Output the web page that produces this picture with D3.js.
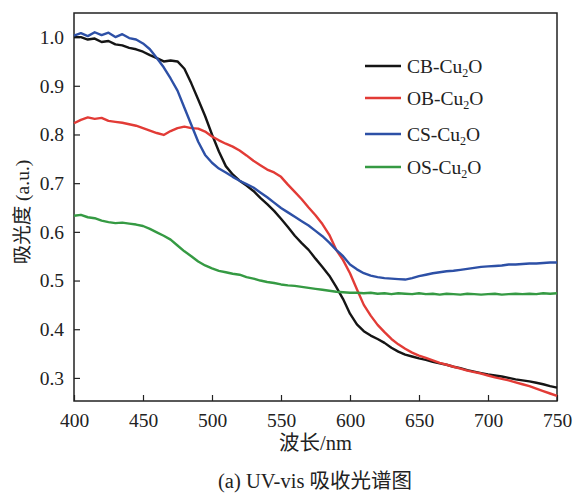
<!DOCTYPE html>
<html>
<head>
<meta charset="utf-8">
<script src="https://cdn.jsdelivr.net/npm/d3@7"></script>
<style>
  html, body { margin: 0; padding: 0; background: #fff; }
  svg text { font-family: "Liberation Serif", "Noto Sans CJK SC", serif; fill: #222; }
</style>
</head>
<body>
<svg id="chart" width="575" height="493"></svg>
<script>
// ── data ──
const wavelengths = d3.range(400, 751, 5);

const cbValues = [
  1.000, 1.000, 0.995, 0.997, 0.990, 0.992, 0.985, 0.983, 0.978, 0.975,
  0.970, 0.963, 0.957, 0.950, 0.952, 0.950, 0.935, 0.905, 0.872, 0.838,
  0.800, 0.765, 0.735, 0.718, 0.705, 0.695, 0.684, 0.670, 0.657, 0.643,
  0.627, 0.610, 0.592, 0.577, 0.563, 0.545, 0.528, 0.510, 0.487, 0.462,
  0.432, 0.410, 0.396, 0.387, 0.380, 0.372, 0.362, 0.354, 0.348, 0.344,
  0.340, 0.337, 0.333, 0.330, 0.327, 0.323, 0.320, 0.316, 0.313, 0.310,
  0.307, 0.305, 0.303, 0.300, 0.297, 0.295, 0.293, 0.290, 0.287, 0.283,
  0.280
];
const obValues = [
  0.823, 0.830, 0.835, 0.832, 0.834, 0.828, 0.826, 0.824, 0.821, 0.818,
  0.813, 0.808, 0.803, 0.799, 0.807, 0.813, 0.816, 0.813, 0.812, 0.806,
  0.796, 0.788, 0.781, 0.775, 0.767, 0.757, 0.746, 0.737, 0.728, 0.722,
  0.713, 0.697, 0.682, 0.667, 0.650, 0.634, 0.616, 0.594, 0.563, 0.542,
  0.515, 0.482, 0.450, 0.428, 0.409, 0.394, 0.380, 0.369, 0.360, 0.352,
  0.346, 0.341, 0.336, 0.331, 0.327, 0.323, 0.319, 0.315, 0.312, 0.309,
  0.305, 0.301, 0.298, 0.295, 0.291, 0.287, 0.283, 0.278, 0.273, 0.268,
  0.263
];
const csValues = [
  1.003, 1.008, 1.002, 1.010, 1.004, 1.009, 1.000, 1.006, 0.998, 0.995,
  0.987, 0.975, 0.957, 0.938, 0.915, 0.890, 0.855, 0.820, 0.785, 0.758,
  0.742, 0.730, 0.722, 0.713, 0.705, 0.698, 0.691, 0.681, 0.671, 0.660,
  0.649, 0.640, 0.631, 0.622, 0.613, 0.602, 0.591, 0.578, 0.563, 0.550,
  0.533, 0.523, 0.515, 0.510, 0.507, 0.505, 0.504, 0.503, 0.502, 0.505,
  0.509, 0.512, 0.515, 0.517, 0.519, 0.520, 0.522, 0.524, 0.526, 0.528,
  0.529, 0.530, 0.531, 0.533, 0.533, 0.534, 0.535, 0.535, 0.536, 0.537,
  0.537
];
const osValues = [
  0.633, 0.635, 0.630, 0.628, 0.623, 0.620, 0.618, 0.619, 0.617, 0.615,
  0.612, 0.606, 0.599, 0.592, 0.584, 0.572, 0.560, 0.550, 0.539, 0.531,
  0.525, 0.520, 0.517, 0.514, 0.512, 0.507, 0.504, 0.500, 0.497, 0.495,
  0.492, 0.490, 0.489, 0.487, 0.485, 0.483, 0.481, 0.479, 0.477, 0.476,
  0.475, 0.475, 0.474, 0.475, 0.473, 0.474, 0.472, 0.474, 0.473, 0.472,
  0.474, 0.472, 0.473, 0.471, 0.473, 0.472, 0.471, 0.473, 0.472, 0.471,
  0.472, 0.473, 0.471, 0.472, 0.473, 0.472, 0.473, 0.472, 0.474, 0.473,
  0.474
];

const xTicks = [400, 450, 500, 550, 600, 650, 700, 750];
const yTicks = [0.3, 0.4, 0.5, 0.6, 0.7, 0.8, 0.9, 1.0];

const series = [
  { name: 'CB', values: cbValues, color: '#151515' },
  { name: 'OB', values: obValues, color: '#e23b36' },
  { name: 'CS', values: csValues, color: '#2d50a6' },
  { name: 'OS', values: osValues, color: '#359a43' },
];

// ── layout ──
const svg = d3.select('#chart');
const M = { left: 74, right: 557, top: 13, bottom: 401 };

const x = d3.scaleLinear().domain([400, 750]).range([M.left, M.right]);
const y = d3.scaleLinear().domain([0.2526, 1.0495]).range([M.bottom, M.top]);

// 坐标轴（刻度朝内）
svg.append('g')
  .attr('transform', `translate(0,${M.bottom})`)
  .call(d3.axisBottom(x).tickValues(xTicks).tickSizeInner(-6).tickSizeOuter(0).tickPadding(12))
  .call(g => {
    g.select('.domain').remove();
    g.selectAll('line').attr('stroke', '#222').attr('stroke-width', 1.2);
    g.selectAll('text').attr('font-size', 19.5).attr('fill', '#222');
  });

svg.append('g')
  .attr('transform', `translate(${M.left},0)`)
  .call(d3.axisLeft(y).tickValues(yTicks).tickFormat(d3.format('.1f')).tickSizeInner(-6).tickSizeOuter(0).tickPadding(10))
  .call(g => {
    g.select('.domain').remove();
    g.selectAll('line').attr('stroke', '#222').attr('stroke-width', 1.2);
    g.selectAll('text').attr('font-size', 19.5).attr('fill', '#222');
  });

// frame
svg.append('rect')
  .attr('x', M.left).attr('y', M.top)
  .attr('width', M.right - M.left).attr('height', M.bottom - M.top)
  .attr('fill', 'none').attr('stroke', '#222').attr('stroke-width', 1.5);

// curves
const line = d3.line()
  .x((d, i) => x(wavelengths[i]))
  .y(d => y(d));

const plot = svg.append('g');
series.forEach(s => {
  plot.append('path')
    .attr('d', line(s.values))
    .attr('fill', 'none')
    .attr('stroke', s.color)
    .attr('stroke-width', 2.4)
    .attr('stroke-linejoin', 'round');
});

// legend
const legend = svg.append('g');
const legY = [66, 98, 134, 167];
series.forEach((s, i) => {
  legend.append('line')
    .attr('x1', 365).attr('x2', 401)
    .attr('y1', legY[i]).attr('y2', legY[i])
    .attr('stroke', s.color).attr('stroke-width', 2.5);
  const t = legend.append('text')
    .attr('x', 407).attr('y', legY[i] + 7)
    .attr('font-size', 19.5);
  t.append('tspan').text(`${s.name}-Cu`);
  t.append('tspan').attr('font-size', 12).attr('dy', 4).text('2');
  t.append('tspan').attr('dy', -4).text('O');
});

// axis titles
svg.append('text')
  .attr('x', (M.left + M.right) / 2).attr('y', 450)
  .attr('text-anchor', 'middle').attr('font-size', 20.5)
  .text('波长/nm');

svg.append('text')
  .attr('transform', 'translate(29,212) rotate(-90)')
  .attr('text-anchor', 'middle').attr('font-size', 19.5)
  .text('吸光度 (a.u.)');

// caption
svg.append('text')
  .attr('x', 315).attr('y', 488)
  .attr('text-anchor', 'middle').attr('font-size', 20.5)
  .text('(a) UV-vis 吸收光谱图');
</script>
</body>
</html>
